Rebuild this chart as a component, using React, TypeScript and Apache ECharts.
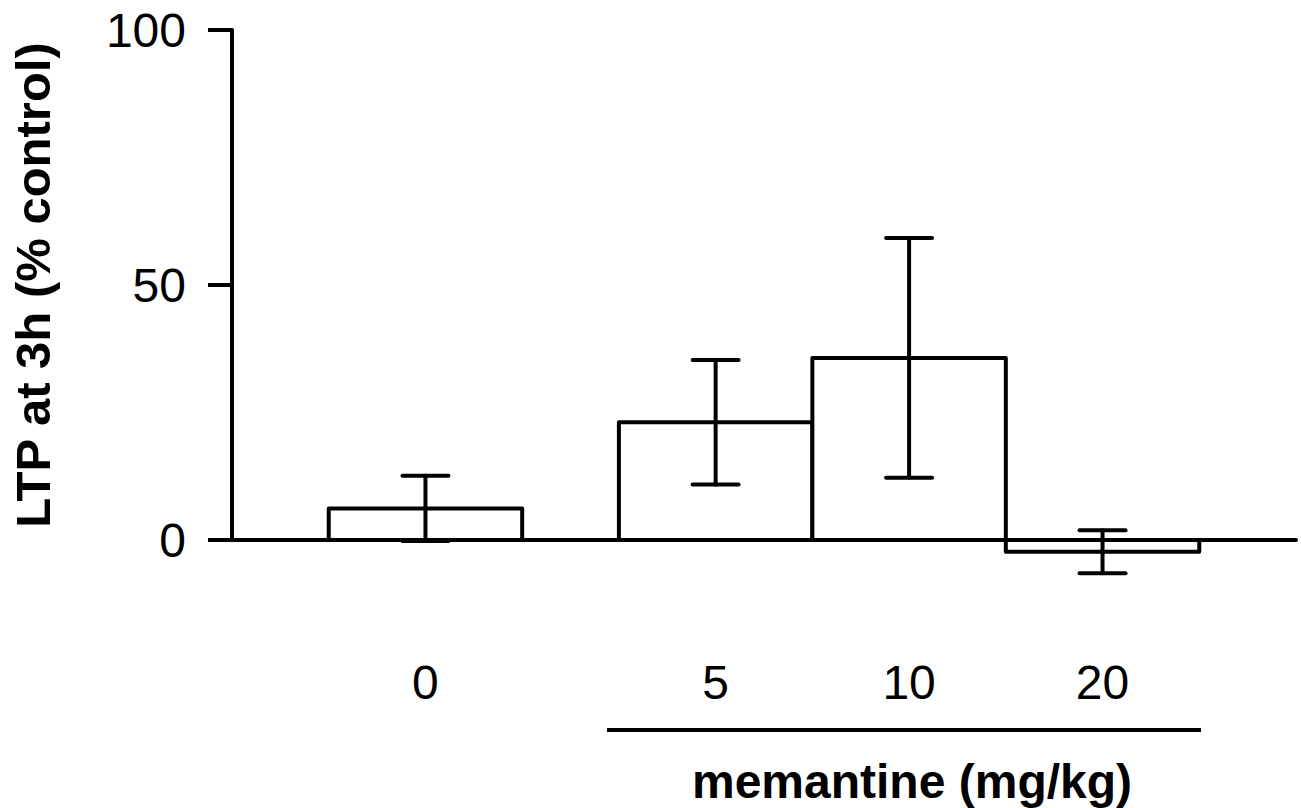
import React, { useEffect, useRef } from "react";
import * as echarts from "echarts";

// ---- data ----
const doses = ["0", "5", "10", "20"];
const ltpMean = [6.2, 23.1, 35.7, -2.3];
const ltpSem = [6.4, 12.2, 23.5, 4.2];
const yTicks = [0, 50, 100];

const yTitle = "LTP at 3h (% control)";
const groupTitle = "memantine (mg/kg)";

// slot position of each dose on the x scale (a gap separates the vehicle bar)
const slotOf = (i: number) => (i === 0 ? 1 : i + 1.5);

const FONT = "'Liberation Sans', Arial, Helvetica, sans-serif";

export default function App() {
  const ref = useRef<HTMLDivElement>(null);

  useEffect(() => {
    if (!ref.current) return;
    const chart = echarts.init(ref.current, null, { renderer: "svg" });

    const data = doses.map((d, i) => [slotOf(i), ltpMean[i], ltpSem[i]]);
    const labelAt: Record<string, string> = {};
    doses.forEach((d, i) => {
      labelAt[String(slotOf(i))] = d;
    });

    const option: any = {
      animation: false,
      backgroundColor: "#ffffff",
      grid: { left: 229, top: 30, width: 1067, height: 510 },
      xAxis: {
        type: "value",
        min: 0,
        max: 5.5,
        interval: 0.5,
        axisLine: { show: true, onZero: true, lineStyle: { color: "#000", width: 4 } },
        axisTick: { show: false },
        splitLine: { show: false },
        axisLabel: {
          show: true,
          margin: 118,
          color: "#000",
          fontSize: 48,
          fontFamily: FONT,
          showMinLabel: true,
          showMaxLabel: true,
          formatter: (v: number) => labelAt[String(v)] ?? "",
        },
      },
      yAxis: {
        type: "value",
        min: yTicks[0],
        max: yTicks[yTicks.length - 1],
        interval: yTicks[1] - yTicks[0],
        name: yTitle,
        nameLocation: "middle",
        nameGap: 175,
        nameRotate: 90,
        nameTextStyle: {
          color: "#000",
          fontSize: 49,
          fontWeight: "bold",
          fontFamily: FONT,
        },
        axisLine: { show: true, lineStyle: { color: "#000", width: 4 } },
        axisTick: { show: true, inside: false, length: 24, lineStyle: { color: "#000", width: 4 } },
        splitLine: { show: false },
        axisLabel: {
          color: "#000",
          fontSize: 48,
          fontFamily: FONT,
          margin: 46,
        },
      },
      graphic: [
        {
          type: "line",
          shape: { x1: 607, y1: 730, x2: 1201, y2: 730 },
          style: { stroke: "#000", lineWidth: 4 },
        },
        {
          type: "text",
          x: 912,
          y: 781,
          style: {
            text: groupTitle,
            fill: "#000",
            font: `bold 48px ${FONT}`,
            textAlign: "center",
            textVerticalAlign: "middle",
          },
        },
      ],
      series: [
        {
          type: "custom",
          clip: false,
          data,
          renderItem: (params: any, api: any) => {
            const x = api.value(0);
            const m = api.value(1);
            const e = api.value(2);
            const tl = api.coord([x - 0.5, m]);
            const br = api.coord([x + 0.5, 0]);
            const top = api.coord([x, m + e]);
            const bot = api.coord([x, m - e]);
            const cap = 23;
            const stroke = { stroke: "#000", lineWidth: 4, lineCap: "round" };
            return {
              type: "group",
              children: [
                {
                  type: "rect",
                  shape: {
                    x: tl[0],
                    y: Math.min(tl[1], br[1]),
                    width: br[0] - tl[0],
                    height: Math.abs(br[1] - tl[1]),
                  },
                  style: { fill: "#fff", stroke: "#000", lineWidth: 4, lineJoin: "round" },
                },
                {
                  type: "line",
                  shape: { x1: top[0], y1: top[1], x2: bot[0], y2: bot[1] },
                  style: stroke,
                },
                {
                  type: "line",
                  shape: { x1: top[0] - cap, y1: top[1], x2: top[0] + cap, y2: top[1] },
                  style: stroke,
                },
                {
                  type: "line",
                  shape: { x1: bot[0] - cap, y1: bot[1], x2: bot[0] + cap, y2: bot[1] },
                  style: stroke,
                },
              ],
            };
          },
        },
      ],
    };

    chart.setOption(option);
    return () => chart.dispose();
  }, []);

  return (
    <div
      ref={ref}
      style={{ position: "fixed", left: 0, top: 0, width: 1301, height: 808, background: "#fff" }}
    />
  );
}
